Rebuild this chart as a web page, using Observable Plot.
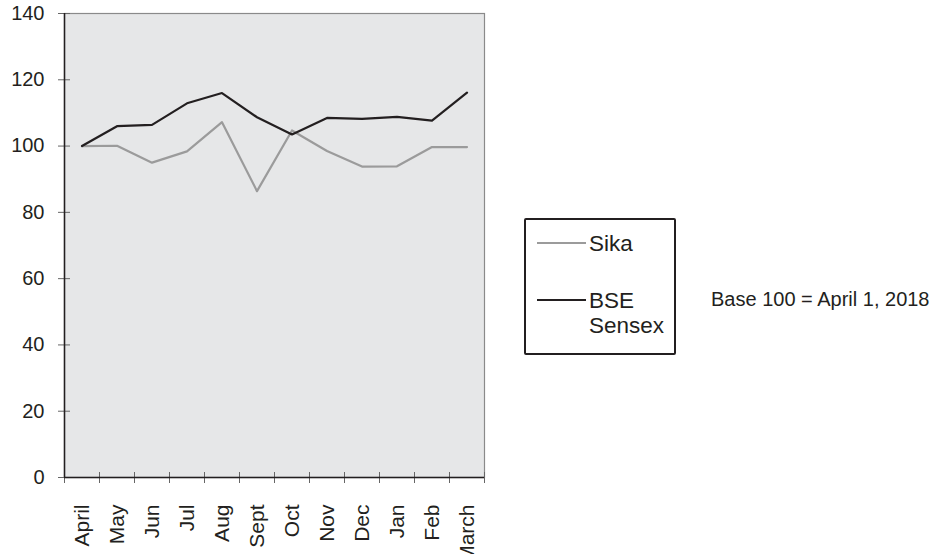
<!DOCTYPE html>
<html>
<head>
<meta charset="utf-8">
<script src="https://cdn.jsdelivr.net/npm/d3@7"></script>
<script src="https://cdn.jsdelivr.net/npm/@observablehq/plot@0.6"></script>
<style>
  body { margin: 0; background: #fff; font-family: "Liberation Sans", Arial, sans-serif; color: #231f20; }
  #wrap { position: relative; width: 943px; height: 554px; overflow: hidden; }
  #legend { position: absolute; left: 524px; top: 218px; width: 148px; height: 133px; border: 2px solid #231f20; border-radius: 2px; }
  .item { position: absolute; left: 11px; display: flex; align-items: flex-start; font-size: 22.5px; line-height: 25px; }
  .swatch { width: 49px; height: 2px; margin-top: 11px; margin-right: 3px; }
  #note { position: absolute; left: 711px; top: 288px; font-size: 20px; white-space: nowrap; }
</style>
</head>
<body>
<div id="wrap">
  <div id="chart"></div>
  <div id="legend"></div>
  <div id="note"></div>
</div>
<script>
const months = ["April", "May", "Jun", "Jul", "Aug", "Sept", "Oct", "Nov", "Dec", "Jan", "Feb", "March"];
const sika   = [100, 100.1, 95.0, 98.4, 107.2, 86.4, 104.7, 98.5, 93.8, 93.9, 99.7, 99.7];
const sensex = [100, 106.0, 106.4, 112.9, 116.0, 108.7, 103.5, 108.5, 108.2, 108.8, 107.7, 116.1];
const yTicks = [0, 20, 40, 60, 80, 100, 120, 140];
const seriesNames = ["Sika", "BSE Sensex"];
const seriesLabels = [["Sika"], ["BSE", "Sensex"]];
const seriesColors = ["#9b9b9b", "#231f20"];
const noteText = "Base 100 = April 1, 2018";

const data = [
  ...months.map((m, i) => ({month: m, series: seriesNames[0], value: sika[i]})),
  ...months.map((m, i) => ({month: m, series: seriesNames[1], value: sensex[i]}))
];

const chart = Plot.plot({
  width: 943,
  height: 554,
  marginLeft: 64,
  marginRight: 459,
  marginTop: 13,
  marginBottom: 77,
  style: {fontFamily: "'Liberation Sans', Arial, sans-serif", fontSize: "20px", color: "#231f20", background: "transparent", overflow: "visible"},
  x: {type: "band", domain: months, padding: 0},
  y: {domain: [0, 140]},
  color: {domain: seriesNames, range: seriesColors},
  marks: [
    Plot.frame({fill: "#e6e7e8", stroke: "#8a8a8a", strokeWidth: 1.2}),
    Plot.axisY({ticks: yTicks, tickSize: 12, dx: 6, tickPadding: 14, label: null, stroke: "#666", fill: "#231f20"}),
    Plot.axisX({tickSize: 11, dx: -17.5, dy: -5, text: null, label: null, stroke: "#666"}),
    Plot.axisX({ticks: months.slice(-1), tickSize: 11, dx: 17.5, dy: -5, text: null, label: null, stroke: "#666"}),
    Plot.axisX({tickSize: 0, tickRotate: -90, tickPadding: 27, fontSize: 21, label: null, fill: "#231f20"}),
    Plot.ruleY([0], {stroke: "#231f20", strokeWidth: 1.5}),
    Plot.ruleX(months.slice(0, 1), {dx: -17.5, stroke: "#231f20", strokeWidth: 1.5}),
    Plot.line(data, {x: "month", y: "value", z: "series", stroke: "series", strokeWidth: 2.2})
  ]
});
document.getElementById("chart").appendChild(chart);

const legend = document.getElementById("legend");
const tops = [11, 68];
seriesNames.forEach((s, i) => {
  const item = document.createElement("div");
  item.className = "item";
  item.style.top = tops[i] + "px";
  const sw = document.createElement("div");
  sw.className = "swatch";
  sw.style.background = seriesColors[i];
  const lab = document.createElement("div");
  lab.innerHTML = seriesLabels[i].join("<br>");
  item.appendChild(sw);
  item.appendChild(lab);
  legend.appendChild(item);
});
document.getElementById("note").textContent = noteText;
</script>
</body>
</html>
